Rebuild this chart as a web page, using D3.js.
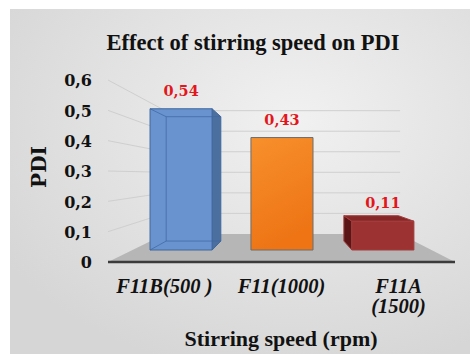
<!DOCTYPE html>
<html><head><meta charset="utf-8">
<script src="https://cdn.jsdelivr.net/npm/d3@7"></script>
<style>html,body{margin:0;padding:0;background:#fff;overflow:hidden}</style>
</head><body>
<svg id="chart" width="470" height="354"></svg>
<script>
// ---- data ----
const categories = ["F11B(500 )", "F11(1000)", "F11A\n(1500)"];
const pdiValues = [0.54, 0.43, 0.11];
const tickValues = [0, 0.1, 0.2, 0.3, 0.4, 0.5, 0.6];
const tickLabels = ["0", "0,1", "0,2", "0,3", "0,4", "0,5", "0,6"];
const titleText = "Effect of stirring speed on PDI";
const xAxisTitle = "Stirring speed (rpm)";
const yAxisTitle = "PDI";

// ---- styles ----
const barStyles = [
  {front:"#6893cf", side:"#4b70a0", top:"#7aa2d8", stroke:"#3f679d", hidden:true},
  {front:"url(#orangeGrad)", side:"#c8600e", top:"#f49a40", stroke:"#6c6c6c", hidden:false},
  {front:"#9c3232", side:"#5a1616", top:"#862727", stroke:"#a33c3c", hidden:false}
];
const numFont = "'DejaVu Serif', serif";
const txtFont = "'Liberation Serif', 'Times New Roman', serif";
const W = 470, H = 354;

const svg = d3.select("#chart");
const defs = svg.append("defs");
const bg = defs.append("radialGradient").attr("id","bg")
  .attr("cx","62%").attr("cy","32%").attr("r","75%");
bg.append("stop").attr("offset","0%").attr("stop-color","#f1f1f1");
bg.append("stop").attr("offset","100%").attr("stop-color","#d6d6d6");
const og = defs.append("linearGradient").attr("id","orangeGrad")
  .attr("x1","0").attr("y1","0").attr("x2","0.3").attr("y2","1");
og.append("stop").attr("offset","0%").attr("stop-color","#f7902c");
og.append("stop").attr("offset","100%").attr("stop-color","#ee7414");

svg.append("rect").attr("x",10).attr("y",9).attr("width",W-10).attr("height",H-9)
  .attr("fill","url(#bg)");

// ---- 3D projection ----
const vp = {x:285, y:175};
const persp = 0.477;
const x = d3.scaleBand().domain(categories).range([108,455])
  .paddingInner(0.385).paddingOuter(0.175);
const y = d3.scaleLinear().domain([0,0.6]).range([262,80]);
const scaleAt = z => 1/(1+persp*z);
const P = (X,Y,z) => { const s = scaleAt(z); return [vp.x+(X-vp.x)*s, vp.y+(Y-vp.y)*s]; };
const [XL, XR] = x.range();
const line = d3.line();

// floor
svg.append("path")
  .attr("d", line([P(XL,y(0),0),P(XR,y(0),0),P(XR,y(0),1),P(XL,y(0),1)]) + "Z")
  .attr("fill","#b6b6b6");

// gridlines (side wall + back wall)
const grid = svg.append("g").attr("stroke","#cfcfcf").attr("stroke-width",1).attr("fill","none");
tickValues.filter(v => v > 0).forEach(v => {
  grid.append("path").attr("d", line([P(XL,y(v),0), P(XL,y(v),1), P(XR,y(v),1)]));
});

// floor front edge
svg.append("path").attr("d", line([P(XL,y(0),0),P(XR,y(0),0)]))
  .attr("stroke","#3b3b3b").attr("stroke-width",2.5).attr("fill","none");

// y axis
const fmtTick = (d,i) => tickLabels[i];
const yAxis = svg.append("g").attr("transform","translate(92,0)")
  .call(d3.axisLeft(y).tickValues(tickValues).tickFormat(fmtTick).tickSize(0).tickPadding(0));
yAxis.select(".domain").remove();
yAxis.selectAll("text").attr("font-family",numFont).attr("font-weight","bold")
  .attr("font-size",16).attr("fill","#111").attr("dy","0.36em");

// bars
const z0 = 0.335, z1 = 0.665;
const locale = d3.formatLocale({decimal:",", thousands:".", grouping:[3], currency:["",""]});
const fmtVal = locale.format(".2f");
const barsG = svg.append("g");
categories.forEach((c,i) => {
  const st = barStyles[i];
  const Xa = x(c), Xb = Xa + x.bandwidth(), Yt = y(pdiValues[i]), Yb = y(0);
  const fTL=P(Xa,Yt,z0), fTR=P(Xb,Yt,z0), fBR=P(Xb,Yb,z0), fBL=P(Xa,Yb,z0);
  const bTL=P(Xa,Yt,z1), bTR=P(Xb,Yt,z1), bBR=P(Xb,Yb,z1), bBL=P(Xa,Yb,z1);
  const g = barsG.append("g").attr("stroke",st.stroke).attr("stroke-width",1).attr("stroke-linejoin","round");
  if (Xb < vp.x) g.append("path").attr("d", line([fTR,bTR,bBR,fBR])+"Z").attr("fill",st.side);
  if (Xa > vp.x) g.append("path").attr("d", line([fTL,bTL,bBL,fBL])+"Z").attr("fill",st.side);
  if (Yt > vp.y) g.append("path").attr("d", line([fTL,fTR,bTR,bTL])+"Z").attr("fill",st.top);
  g.append("path").attr("d", line([fTL,fTR,fBR,fBL])+"Z").attr("fill",st.front);
  if (st.hidden) {
    const h = g.append("g").attr("stroke","#3d65a0").attr("stroke-opacity",0.7).attr("fill","none");
    [[bTL,bTR],[bTL,bBL],[bBL,bBR],[fTL,bTL],[fBL,bBL]].forEach(seg => h.append("path").attr("d", line(seg)));
  }
  svg.append("text").attr("x",(fTL[0]+fTR[0])/2).attr("y",fTL[1]-13)
    .attr("text-anchor","middle").attr("font-family",numFont).attr("font-weight","bold")
    .attr("font-size",14.5).attr("fill","#e3161c").text(fmtVal(pdiValues[i]));
});

// category labels
categories.forEach(c => {
  const cx = x(c) + x.bandwidth()/2;
  const t = svg.append("text").attr("x", cx).attr("y", 293)
    .attr("text-anchor","middle").attr("font-family",txtFont).attr("font-weight","bold")
    .attr("font-style","italic").attr("font-size",20.5).attr("fill","#111");
  c.split("\n").forEach((ln,j) => t.append("tspan").attr("x", cx).attr("dy", j===0?0:20).text(ln));
});

// titles
svg.append("text").attr("x",253).attr("y",50).attr("text-anchor","middle")
  .attr("font-family",txtFont).attr("font-weight","bold").attr("font-size",22.5).attr("fill","#111")
  .text(titleText);
svg.append("text").attr("x",281).attr("y",346).attr("text-anchor","middle")
  .attr("font-family",txtFont).attr("font-weight","bold").attr("font-size",22).attr("fill","#111")
  .text(xAxisTitle);
svg.append("text").attr("transform","translate(46,167) rotate(-90)").attr("text-anchor","middle")
  .attr("font-family",numFont).attr("font-weight","bold").attr("font-size",20).attr("fill","#111")
  .text(yAxisTitle);
</script>
</body></html>
